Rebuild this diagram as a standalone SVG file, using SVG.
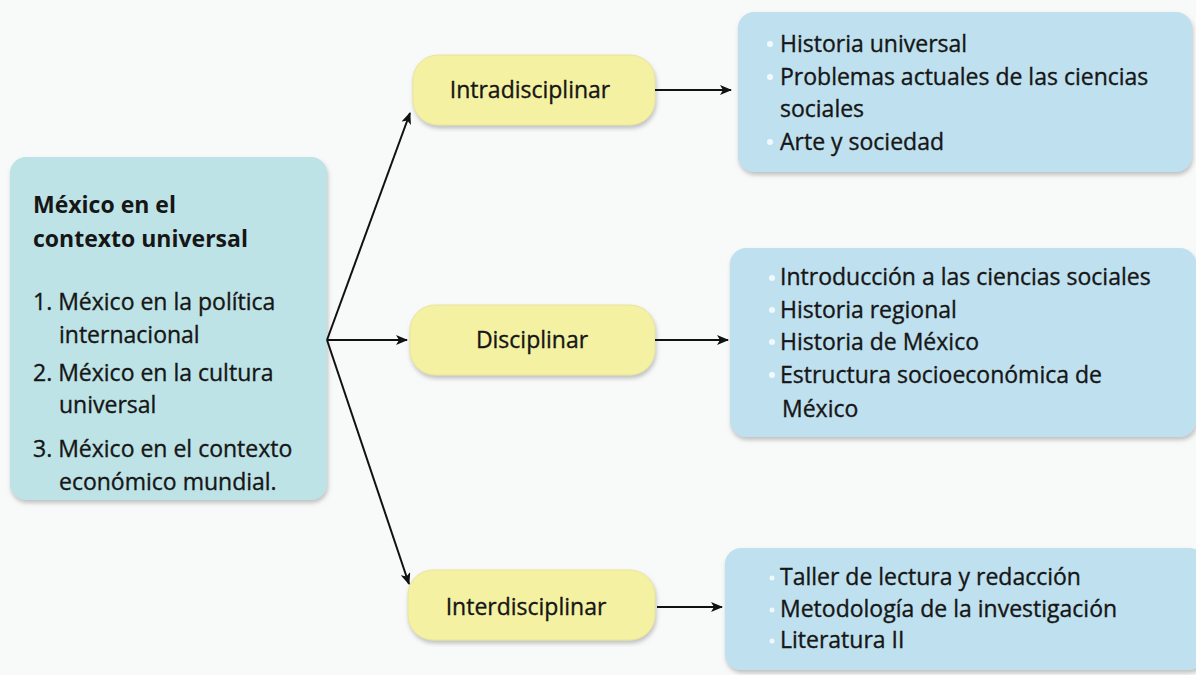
<svg xmlns="http://www.w3.org/2000/svg" width="1196" height="675" viewBox="0 0 1196 675">
<defs>
<style>
.t{font-family:"Open Sans","Noto Sans","Liberation Sans",sans-serif;font-size:23px;fill:#161616;stroke:#161616;stroke-width:0.35}
.b{font-weight:bold;stroke-width:0}
.pill{fill:#f4f1a2;stroke:#e9e59a;stroke-width:1}
.box{fill:#bfe0ee}
.lbox{fill:#bde3e6}
.c{stroke:#111;stroke-width:2;fill:none}
.dot{fill:#ffffff;opacity:0.8}
</style>
<marker id="ah" viewBox="0 0 12 10" refX="11" refY="5" markerWidth="12" markerHeight="10" markerUnits="userSpaceOnUse" orient="auto">
<path d="M0,0 L12,5 L0,10 L3,5 Z" fill="#111"/>
</marker>
<filter id="sh" x="-5%" y="-5%" width="110%" height="115%">
<feDropShadow dx="1" dy="3" stdDeviation="2" flood-color="#888" flood-opacity="0.5"/>
</filter>
</defs>
<rect width="1196" height="675" fill="#f8f9f9"/>

<g id="main">
<rect class="lbox" x="10" y="157" width="317" height="343" rx="16" filter="url(#sh)"/>
<text class="t b" x="33" y="213" font-size="22">México en el</text>
<text class="t b" x="33" y="247" font-size="22">contexto universal</text>
<text class="t" x="33" y="310">1. México en la política</text>
<text class="t" x="59" y="343">internacional</text>
<text class="t" x="33" y="381">2. México en la cultura</text>
<text class="t" x="59" y="413">universal</text>
<text class="t" x="33" y="457">3. México en el contexto</text>
<text class="t" x="59" y="490">económico mundial.</text>
</g>

<g id="intra">
<rect class="pill" x="413" y="55" width="242" height="70" rx="25" filter="url(#sh)"/>
<text class="t" x="530" y="98" text-anchor="middle">Intradisciplinar</text>
</g>
<g id="disc">
<rect class="pill" x="410" y="305" width="245" height="70" rx="25" filter="url(#sh)"/>
<text class="t" x="532" y="348" text-anchor="middle">Disciplinar</text>
</g>
<g id="inter">
<rect class="pill" x="408" y="570" width="247" height="70" rx="25" filter="url(#sh)"/>
<text class="t" x="526" y="615" text-anchor="middle">Interdisciplinar</text>
</g>

<g id="intra-list">
<rect class="box" x="738" y="12" width="454" height="160" rx="16" filter="url(#sh)"/>
<circle class="dot" cx="770" cy="44" r="3"/>
<circle class="dot" cx="770" cy="77" r="3"/>
<circle class="dot" cx="770" cy="142" r="3"/>
<text class="t" x="780" y="52">Historia universal</text>
<text class="t" x="780" y="85">Problemas actuales de las ciencias</text>
<text class="t" x="780" y="117">sociales</text>
<text class="t" x="780" y="150">Arte y sociedad</text>
</g>
<g id="disc-list">
<rect class="box" x="730" y="248" width="466" height="189" rx="16" filter="url(#sh)"/>
<circle class="dot" cx="772" cy="278" r="3"/>
<circle class="dot" cx="772" cy="310" r="3"/>
<circle class="dot" cx="772" cy="342" r="3"/>
<circle class="dot" cx="772" cy="375" r="3"/>
<text class="t" x="780" y="285">Introducción a las ciencias sociales</text>
<text class="t" x="780" y="318">Historia regional</text>
<text class="t" x="780" y="350">Historia de México</text>
<text class="t" x="780" y="383">Estructura socioeconómica de</text>
<text class="t" x="782" y="417">México</text>
</g>
<g id="inter-list">
<rect class="box" x="725" y="548" width="480" height="122" rx="16" filter="url(#sh)"/>
<circle class="dot" cx="772" cy="578" r="2.5"/>
<circle class="dot" cx="772" cy="610" r="2.5"/>
<circle class="dot" cx="772" cy="641" r="2.5"/>
<text class="t" x="780" y="585">Taller de lectura y redacción</text>
<text class="t" x="780" y="617">Metodología de la investigación</text>
<text class="t" x="780" y="648">Literatura II</text>
</g>

<g id="connectors">
<path class="c" d="M327,340 L410,113" marker-end="url(#ah)"/>
<path class="c" d="M327,340 L407,340" marker-end="url(#ah)"/>
<path class="c" d="M327,340 L409,584" marker-end="url(#ah)"/>
<path class="c" d="M655,90 L731,90" marker-end="url(#ah)"/>
<path class="c" d="M655,340 L728,340" marker-end="url(#ah)"/>
<path class="c" d="M657,607 L722,607" marker-end="url(#ah)"/>
</g>
</svg>
